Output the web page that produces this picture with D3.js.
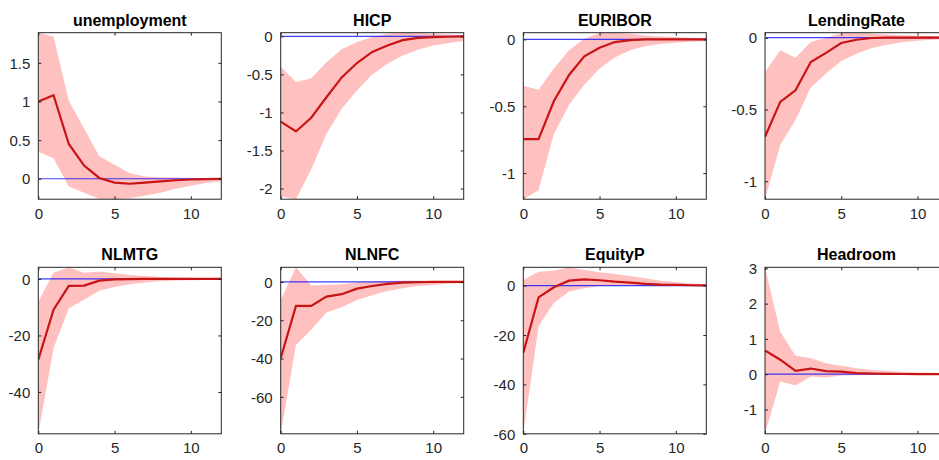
<!DOCTYPE html>
<html>
<head>
<meta charset="utf-8">
<script src="https://cdn.jsdelivr.net/npm/d3@7/dist/d3.min.js"></script>
<style>
  body { margin: 0; background: #fff; }
  svg { display: block; font-family: "Liberation Sans", Arial, sans-serif; }
  .tick text { fill: #262626; font-size: 15px; }
  .title { font-size: 16px; font-weight: bold; fill: #000; }
</style>
</head>
<body>
<div id="chart"></div>
<script>
// horizons 0..12
var horizon = [0, 1, 2, 3, 4, 5, 6, 7, 8, 9, 10, 11, 12];
var xTicks = [0, 5, 10];

var names = ["unemployment", "HICP", "EURIBOR", "LendingRate", "NLMTG", "NLNFC", "EquityP", "Headroom"];

// median responses
var medUnemp = [1.0, 1.08, 0.45, 0.17, 0.01, -0.05, -0.065, -0.05, -0.035, -0.02, -0.01, -0.005, 0];
var medHICP = [-1.12, -1.25, -1.07, -0.8, -0.54, -0.35, -0.205, -0.12, -0.05, -0.02, -0.01, -0.005, 0];
var medEuribor = [-0.746, -0.746, -0.463, -0.266, -0.126, -0.062, -0.02, -0.005, 0, 0, 0, 0, 0];
var medLending = [-0.69, -0.447, -0.366, -0.169, -0.106, -0.037, -0.014, -0.002, 0, 0, 0, 0, 0];
var medNLMTG = [-28.6, -10.9, -2.5, -2.35, -0.6, -0.2, -0.1, 0, 0, 0, 0, 0, 0];
var medNLNFC = [-39.8, -12.5, -12.5, -7.65, -6.4, -3.5, -2.1, -1.0, -0.35, -0.17, 0, 0, 0];
var medEquity = [-27.2, -4.8, -0.7, 2.0, 2.55, 2.15, 1.6, 1.2, 0.7, 0.4, 0.27, 0.13, 0.1];
var medHeadroom = [0.67, 0.41, 0.094, 0.16, 0.085, 0.075, 0.03, 0.02, 0.01, 0.005, 0.003, 0.002, 0.001];

// upper band
var upUnemp = [1.89, 1.84, 1.01, 0.65, 0.29, 0.18, 0.07, 0.03, 0.02, 0.015, 0.01, 0.005, 0];
var upHICP = [-0.4, -0.6, -0.55, -0.34, -0.17, -0.075, -0.01, 0.035, 0.048, 0.045, 0.035, 0.025, 0.017];
var upEuribor = [-0.347, -0.377, -0.217, -0.081, 0.005, 0.047, 0.05, 0.042, 0.03, 0.022, 0.017, 0.012, 0.01];
var upLending = [-0.238, -0.088, -0.139, -0.03, 0, 0.032, 0.035, 0.03, 0.023, 0.018, 0.014, 0.012, 0.01];
var upNLMTG = [-8, 2.2, 4.1, 2.2, 2.6, 2.0, 1.4, 1.05, 0.7, 0.47, 0.35, 0.24, 0.12];
var upNLNFC = [-9.4, 7.65, -1.9, -1.6, -1.2, -0.35, 0.35, 0.5, 0.7, 0.7, 0.5, 0.35, 0.35];
var upEquity = [2.3, 5.6, 6.0, 7.4, 6.3, 5.4, 4.7, 3.9, 3.0, 2.0, 1.35, 0.8, 0.55];
var upHeadroom = [3.03, 1.2, 0.52, 0.45, 0.31, 0.24, 0.17, 0.12, 0.09, 0.066, 0.047, 0.038, 0.028];

// lower band
var loUnemp = [0.35, 0.265, -0.1, -0.18, -0.26, -0.265, -0.25, -0.22, -0.18, -0.13, -0.09, -0.055, -0.035];
var loHICP = [-2.1, -2.14, -1.75, -1.28, -0.95, -0.71, -0.5, -0.36, -0.25, -0.175, -0.12, -0.087, -0.06];
var loEuribor = [-1.195, -1.128, -0.709, -0.488, -0.34, -0.217, -0.135, -0.081, -0.052, -0.034, -0.025, -0.017, -0.012];
var loLending = [-1.125, -0.748, -0.574, -0.347, -0.25, -0.162, -0.111, -0.072, -0.049, -0.032, -0.021, -0.014, -0.009];
var loNLMTG = [-54.8, -24.5, -10.4, -7.4, -4.2, -2.9, -1.9, -1.3, -0.8, -0.6, -0.47, -0.35, -0.24];
var loNLNFC = [-79.3, -32.9, -25, -16, -13.2, -9.4, -7, -4.7, -3.3, -2.1, -1.6, -1.0, -0.7];
var loEquity = [-60, -16.5, -7.1, -2.4, -1.1, -0.13, -0.05, 0, 0, 0, 0, 0, 0];
var loHeadroom = [-1.69, -0.21, -0.32, -0.066, -0.094, -0.038, -0.028, -0.02, -0.015, -0.01, -0.008, -0.005, -0.004];

// y tick values per panel
var yTicksUnemp = [0, 0.5, 1, 1.5];
var yTicksHICP = [-2, -1.5, -1, -0.5, 0];
var yTicksEuribor = [-1, -0.5, 0];
var yTicksLending = [-1, -0.5, 0];
var yTicksNLMTG = [-40, -20, 0];
var yTicksNLNFC = [-60, -40, -20, 0];
var yTicksEquity = [-60, -40, -20, 0];
var yTicksHeadroom = [-1, 0, 1, 2, 3];

var medians = [medUnemp, medHICP, medEuribor, medLending, medNLMTG, medNLNFC, medEquity, medHeadroom];
var uppers = [upUnemp, upHICP, upEuribor, upLending, upNLMTG, upNLNFC, upEquity, upHeadroom];
var lowers = [loUnemp, loHICP, loEuribor, loLending, loNLMTG, loNLNFC, loEquity, loHeadroom];
var yTicks = [yTicksUnemp, yTicksHICP, yTicksEuribor, yTicksLending, yTicksNLMTG, yTicksNLNFC, yTicksEquity, yTicksHeadroom];

var W = 939, H = 460;
var colLeft = [38.3, 280.7, 523.3, 765];
var rowTop = [32.7, 267.3];
var pw = 183, ph = 166.5;
var tickLen = 3;

var svg = d3.select("#chart").append("svg")
    .attr("width", W)
    .attr("height", H);

names.forEach(function (name, i) {
  var col = i % 4, row = Math.floor(i / 4);
  var g = svg.append("g")
      .attr("transform", "translate(" + colLeft[col] + "," + rowTop[row] + ")");

  var rows = horizon.map(function (h, k) {
    return {h: h, m: medians[i][k], lo: lowers[i][k], up: uppers[i][k]};
  });

  var x = d3.scaleLinear().domain([0, 12]).range([0, pw]);
  // tight limits like MATLAB "axis tight"
  var y = d3.scaleLinear()
      .domain([d3.min(rows, function (d) { return d.lo; }), d3.max(rows, function (d) { return d.up; })])
      .range([ph, 0]);

  var clipId = "clip" + i;
  g.append("clipPath").attr("id", clipId)
    .append("rect").attr("width", pw).attr("height", ph);

  var plot = g.append("g").attr("clip-path", "url(#" + clipId + ")");

  // error band
  plot.append("path")
    .datum(rows)
    .attr("fill", "#ffc0c0")
    .attr("d", d3.area()
      .x(function (d) { return x(d.h); })
      .y0(function (d) { return y(d.lo); })
      .y1(function (d) { return y(d.up); }));

  // zero line
  plot.append("line")
    .attr("x1", x(0)).attr("x2", x(12))
    .attr("y1", y(0)).attr("y2", y(0))
    .attr("stroke", "#0000ff")
    .attr("stroke-opacity", 0.75)
    .attr("stroke-width", 1.2);

  // median response
  plot.append("path")
    .datum(rows)
    .attr("fill", "none")
    .attr("stroke", "#c81414")
    .attr("stroke-width", 2.2)
    .attr("d", d3.line()
      .x(function (d) { return x(d.h); })
      .y(function (d) { return y(d.m); }));

  // axes, ticks inside on all four sides
  var xAxis = d3.axisBottom(x).tickValues(xTicks).tickSizeInner(-tickLen).tickSizeOuter(0).tickPadding(9);
  var xTop = d3.axisTop(x).tickValues(xTicks).tickSizeInner(-tickLen).tickSizeOuter(0).tickFormat("");
  var yAxis = d3.axisLeft(y).tickValues(yTicks[i]).tickSizeInner(-tickLen).tickSizeOuter(0).tickPadding(8)
      .tickFormat(function (v) { return String(v); });
  var yRight = d3.axisRight(y).tickValues(yTicks[i]).tickSizeInner(-tickLen).tickSizeOuter(0).tickFormat("");

  g.append("g").attr("class", "xaxis").attr("transform", "translate(0," + ph + ")").call(xAxis);
  g.append("g").call(xTop);
  g.append("g").attr("class", "yaxis").call(yAxis);
  g.append("g").attr("transform", "translate(" + pw + ",0)").call(yRight);

  g.selectAll(".domain").remove();
  g.selectAll(".tick line").attr("stroke", "#262626");
  g.selectAll(".xaxis .tick text").attr("dy", "0.71em");
  g.selectAll(".yaxis .tick text").attr("dy", "0.35em");

  g.append("rect")
    .attr("width", pw).attr("height", ph)
    .attr("fill", "none")
    .attr("stroke", "#262626")
    .attr("stroke-width", 1);

  g.append("text")
    .attr("class", "title")
    .attr("x", pw / 2)
    .attr("y", -7)
    .attr("text-anchor", "middle")
    .text(name);
});
</script>
</body>
</html>
